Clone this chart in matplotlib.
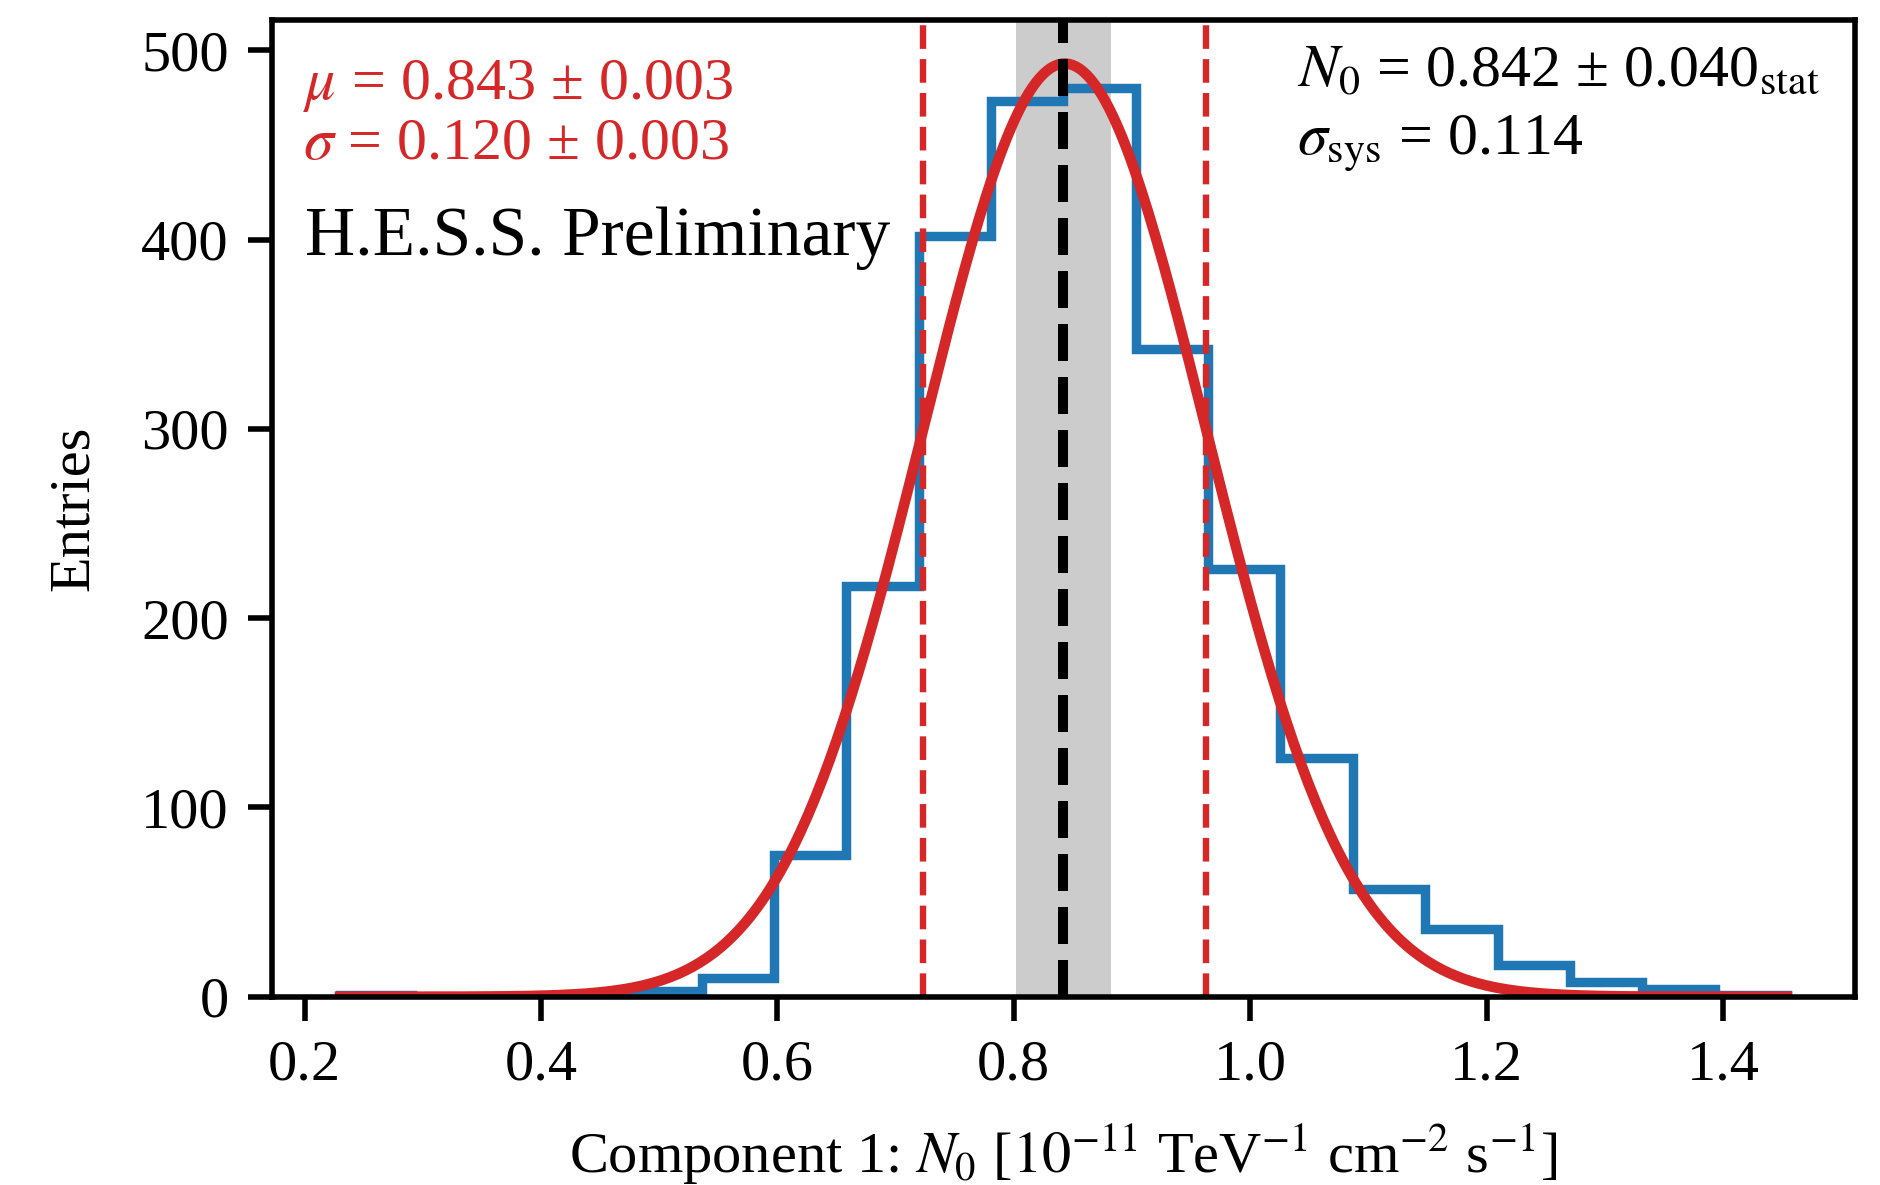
import matplotlib
matplotlib.use("Agg")
import matplotlib.pyplot as plt
import numpy as np

plt.rcParams['font.family'] = ['Liberation Serif', 'STIXGeneral', 'DejaVu Serif']
plt.rcParams['mathtext.fontset'] = 'stix'

# histogram of component 1 normalisation
x_min, x_max, n_bins = 0.23, 1.454, 20
counts = [1, 0, 0, 1, 3, 10, 75, 217, 402, 473, 480, 342, 226, 126, 57, 36, 17, 8, 4, 1]

# gaussian fit
fit_mu = 0.843
fit_sigma = 0.120
fit_amp = 493

# measured value and stat error
n0_best = 0.842
n0_stat = 0.040

edges = np.linspace(x_min, x_max, n_bins + 1)
xs = np.linspace(x_min, x_max, 400)
gauss = fit_amp * np.exp(-0.5 * ((xs - fit_mu) / fit_sigma) ** 2)

fig = plt.figure(figsize=(9.4, 5.925), dpi=200)
ax = fig.add_axes([0.1447, 0.1589, 0.842, 0.8242])

ax.axvspan(n0_best - n0_stat, n0_best + n0_stat, color='k', alpha=0.2, lw=0)
ax.stairs(counts, edges, color='#1f77b4', lw=3.4)
ax.plot(xs, gauss, color='#d62728', lw=3.8)
ax.axvline(fit_mu - fit_sigma, color='#d62728', ls='--', lw=2.3)
ax.axvline(fit_mu + fit_sigma, color='#d62728', ls='--', lw=2.3)
ax.axvline(n0_best, color='k', ls='--', lw=3.6)

ax.set_xlim(0.1725, 1.5116)
ax.set_ylim(0, 516)
ax.set_xticks([0.2, 0.4, 0.6, 0.8, 1.0, 1.2, 1.4])
ax.set_yticks([0, 100, 200, 300, 400, 500])

for s in ax.spines.values():
    s.set_linewidth(2.0)
ax.tick_params(labelsize=21, width=2.0, length=8.5, direction='out', pad=7)

ax.set_xlabel(r'Component 1: $N_0$ [$10^{-11}$ TeV$^{-1}$ cm$^{-2}$ s$^{-1}$]', fontsize=21, labelpad=11)
ax.set_ylabel('Entries', fontsize=21, labelpad=15)

red = '#d62728'
fs = 21.6
ax.text(0.0196, 0.919, r'$\mu$ = 0.843 ± 0.003', transform=ax.transAxes, color=red,
        fontsize=fs, va='baseline', ha='left')
ax.text(0.0196, 0.858, r'$\sigma$ = 0.120 ± 0.003', transform=ax.transAxes, color=red,
        fontsize=fs, va='baseline', ha='left')
ax.text(0.021, 0.7595, 'H.E.S.S. Preliminary', transform=ax.transAxes, fontsize=25,
        va='baseline', ha='left')
ax.text(0.6475, 0.9324, r'$N_0$ = 0.842 ± 0.040$_{\mathrm{stat}}$', transform=ax.transAxes,
        color='k', fontsize=fs, va='baseline', ha='left')
ax.text(0.6475, 0.862, r'$\sigma_{\mathrm{sys}}$ = 0.114', transform=ax.transAxes,
        color='k', fontsize=fs, va='baseline', ha='left')

fig.savefig('out.png', dpi=200)
